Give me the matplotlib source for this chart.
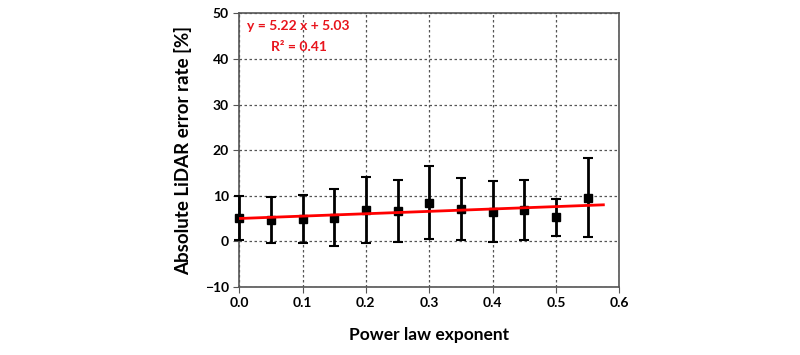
import matplotlib
matplotlib.use('Agg')
import matplotlib.pyplot as plt
import numpy as np

plt.rcParams['font.family'] = ['Lato', 'DejaVu Sans']

# data
exponent = [0.0, 0.05, 0.1, 0.15, 0.2, 0.25, 0.3, 0.35, 0.4, 0.45, 0.5, 0.55]
error_mean = [5.2, 4.7, 4.9, 5.2, 6.9, 6.7, 8.5, 7.2, 6.5, 6.9, 5.3, 9.6]
error_sd = [4.8, 5.0, 5.3, 6.2, 7.3, 6.8, 8.0, 6.8, 6.7, 6.6, 4.0, 8.7]
slope = 5.22
intercept = 5.03
r2 = 0.41
fit_range = [0.0, 0.575]

fig = plt.figure(figsize=(8, 3.55), dpi=100)
ax = fig.add_axes([0.299, 0.1915, 0.475, 0.7705])

eb = ax.errorbar(exponent, error_mean, yerr=error_sd, fmt='s', color='black',
                 ms=6, elinewidth=2, capsize=3.5, capthick=1.5, zorder=3)
# keep the marker at x=0 whole
eb.lines[0].set_clip_on(False)
for art in list(eb.lines[1]) + list(eb.lines[2]):
    art.set_clip_on(False)

xf = np.array(fit_range)
ax.plot(xf, slope * xf + intercept, color='#ff0000', lw=2, zorder=4)

ax.text(0.012, 47.2, f'y = {slope:.2f} x + {intercept:.2f}', color='#e8141c',
        fontsize=10, fontweight='bold', va='center')
ax.text(0.05, 42.7, f'R\u00b2 = {r2:.2f}', color='#e8141c',
        fontsize=10, fontweight='bold', va='center')

ax.set_xlim(0, 0.6)
ax.set_ylim(-10, 50)
ax.set_xticks(np.arange(0, 0.61, 0.1))
ax.set_yticks(np.arange(-10, 51, 10))
ax.set_xticklabels([f'{v:.1f}' for v in np.arange(0, 0.61, 0.1)])
ax.grid(True, linestyle=(0, (2, 2)), color='#555555', lw=0.9)
ax.set_axisbelow(True)

for s in ax.spines.values():
    s.set_color('#555555')
    s.set_linewidth(1.2)

ax.tick_params(direction='out', length=4, color='#555555', labelsize=10)
for lab in ax.get_xticklabels() + ax.get_yticklabels():
    lab.set_fontweight('bold')

ax.set_xlabel('Power law exponent', fontsize=12.5, fontweight='bold', labelpad=13)
ax.set_ylabel('Absolute LiDAR error rate [%]', fontsize=13.5, fontweight='bold', labelpad=9)

fig.savefig('out.png', dpi=100)
